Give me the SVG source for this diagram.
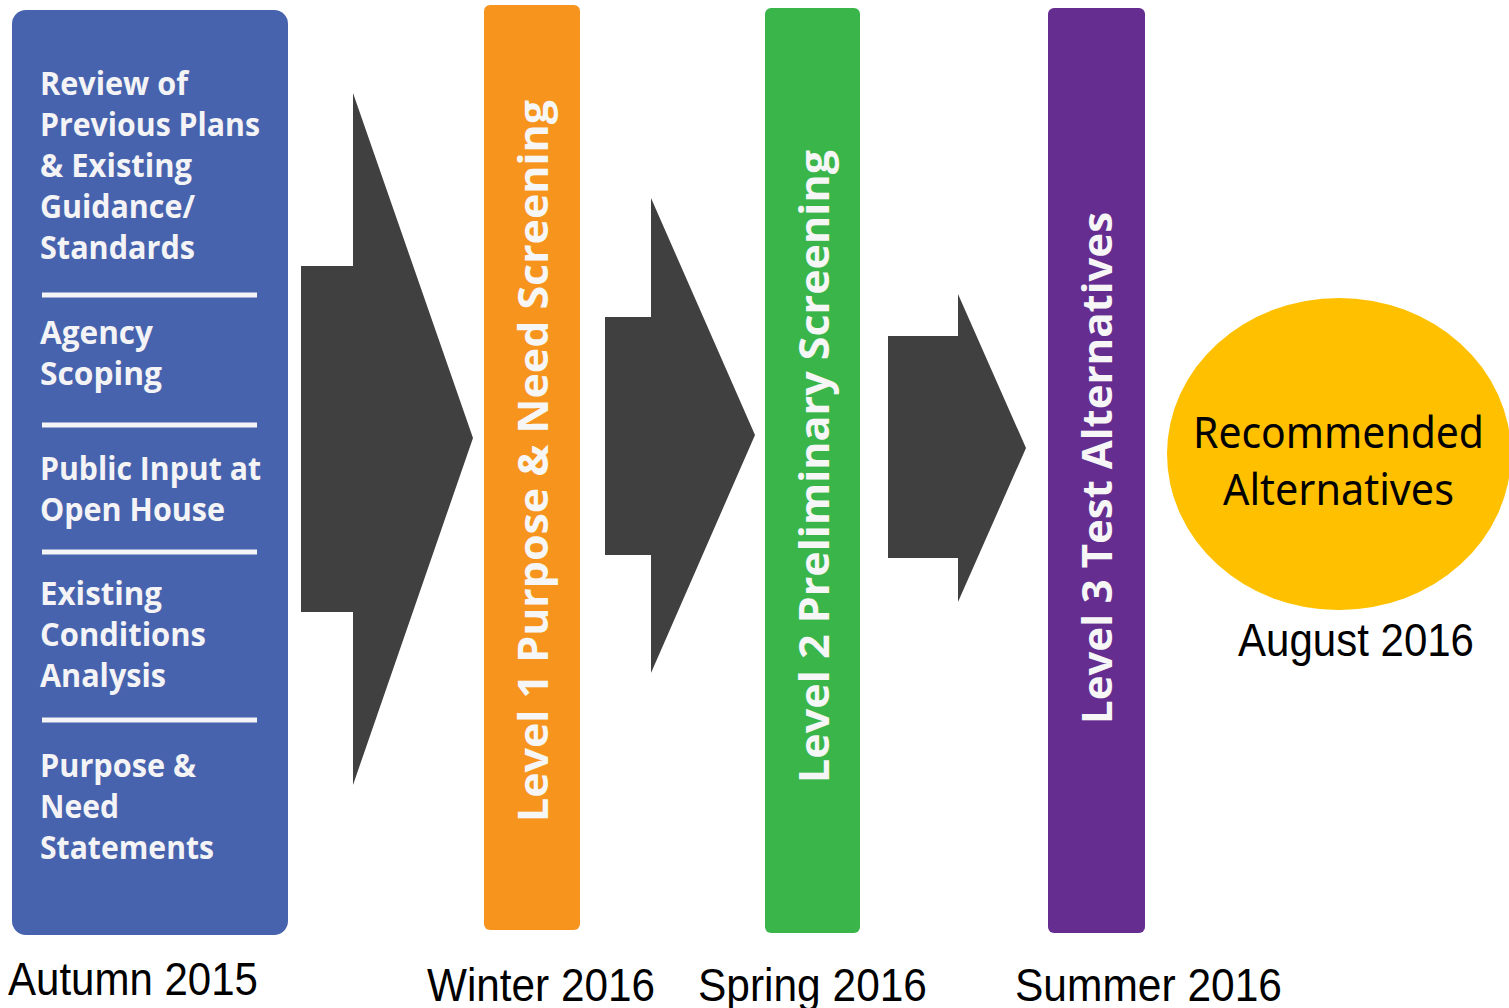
<svg xmlns="http://www.w3.org/2000/svg" width="1509" height="1008" viewBox="0 0 1509 1008">
<style>
.box{font-family:"Open Sans","DejaVu Sans",sans-serif;font-weight:bold;font-size:32px;fill:#f4f4f6}
.sep{stroke:#f4f4f6;stroke-width:5}
.bar{font-family:"Open Sans","DejaVu Sans",sans-serif;font-weight:bold;font-size:42px;fill:#f6f6f6}
.lbl{font-family:"Liberation Sans",Arial,sans-serif;font-size:46px;fill:#000}
.circ{font-family:"Noto Sans","Open Sans",sans-serif;font-size:43px;fill:#000}
.arr{fill:#404041}
</style>
<rect width="1509" height="1008" fill="#fff"/>
<g id="inputs">
<rect x="12" y="10" width="276" height="925" rx="14" fill="#4863ae"/>
<text class="box" x="40" y="95" textLength="148" lengthAdjust="spacingAndGlyphs">Review of</text>
<text class="box" x="40" y="136" textLength="220" lengthAdjust="spacingAndGlyphs">Previous Plans</text>
<text class="box" x="40" y="177" textLength="152" lengthAdjust="spacingAndGlyphs">&amp; Existing</text>
<text class="box" x="40" y="218" textLength="155" lengthAdjust="spacingAndGlyphs">Guidance/</text>
<text class="box" x="40" y="259" textLength="155" lengthAdjust="spacingAndGlyphs">Standards</text>
<line class="sep" x1="42" y1="295" x2="257" y2="295"/>
<text class="box" x="40" y="344" textLength="113" lengthAdjust="spacingAndGlyphs">Agency</text>
<text class="box" x="40" y="385" textLength="122" lengthAdjust="spacingAndGlyphs">Scoping</text>
<line class="sep" x1="42" y1="425" x2="257" y2="425"/>
<text class="box" x="40" y="480" textLength="221" lengthAdjust="spacingAndGlyphs">Public Input at</text>
<text class="box" x="40" y="521" textLength="185" lengthAdjust="spacingAndGlyphs">Open House</text>
<line class="sep" x1="42" y1="552" x2="257" y2="552"/>
<text class="box" x="40" y="605" textLength="122" lengthAdjust="spacingAndGlyphs">Existing</text>
<text class="box" x="40" y="646" textLength="166" lengthAdjust="spacingAndGlyphs">Conditions</text>
<text class="box" x="40" y="687" textLength="126" lengthAdjust="spacingAndGlyphs">Analysis</text>
<line class="sep" x1="42" y1="720" x2="257" y2="720"/>
<text class="box" x="40" y="777" textLength="156" lengthAdjust="spacingAndGlyphs">Purpose &amp;</text>
<text class="box" x="40" y="818" textLength="79" lengthAdjust="spacingAndGlyphs">Need</text>
<text class="box" x="40" y="859" textLength="174" lengthAdjust="spacingAndGlyphs">Statements</text>
</g>
<g id="connectors">
<polygon class="arr" points="301,266 353,266 353,93 473,438 353,785 353,612 301,612"/>
<polygon class="arr" points="605,317 651,317 651,198 755,435 651,673 651,555 605,555"/>
<polygon class="arr" points="888,336 958,336 958,294 1026,448 958,602 958,558 888,558"/>
</g>
<g id="level1">
<rect x="484" y="5" width="96" height="925" rx="6" fill="#f7941d"/>
<text class="bar" transform="translate(548,822) rotate(-90)" textLength="722" lengthAdjust="spacingAndGlyphs">Level 1 Purpose &amp; Need Screening</text>
</g>
<g id="level2">
<rect x="765" y="8" width="95" height="925" rx="6" fill="#39b54a"/>
<text class="bar" transform="translate(829,783) rotate(-90)" textLength="633" lengthAdjust="spacingAndGlyphs">Level 2 Preliminary Screening</text>
</g>
<g id="level3">
<rect x="1048" y="8" width="97" height="925" rx="6" fill="#662d91"/>
<text class="bar" transform="translate(1112,724) rotate(-90)" textLength="512" lengthAdjust="spacingAndGlyphs">Level 3 Test Alternatives</text>
</g>
<g id="result">
<ellipse cx="1337" cy="457" rx="168" ry="153" fill="#ffe14d" opacity="0.6"/>
<ellipse cx="1339" cy="454" rx="172" ry="156" fill="#ffc000"/>
<text class="circ" x="1193" y="448" textLength="291" lengthAdjust="spacingAndGlyphs">Recommended</text>
<text class="circ" x="1223" y="505" textLength="231" lengthAdjust="spacingAndGlyphs">Alternatives</text>
</g>
<g id="labels">
<text class="lbl" x="8" y="995" textLength="250" lengthAdjust="spacingAndGlyphs">Autumn 2015</text>
<text class="lbl" x="427" y="1001" textLength="228" lengthAdjust="spacingAndGlyphs">Winter 2016</text>
<text class="lbl" x="698" y="1001" textLength="229" lengthAdjust="spacingAndGlyphs">Spring 2016</text>
<text class="lbl" x="1015" y="1001" textLength="267" lengthAdjust="spacingAndGlyphs">Summer 2016</text>
<text class="lbl" x="1238" y="656" textLength="236" lengthAdjust="spacingAndGlyphs">August 2016</text>
</g>
</svg>
